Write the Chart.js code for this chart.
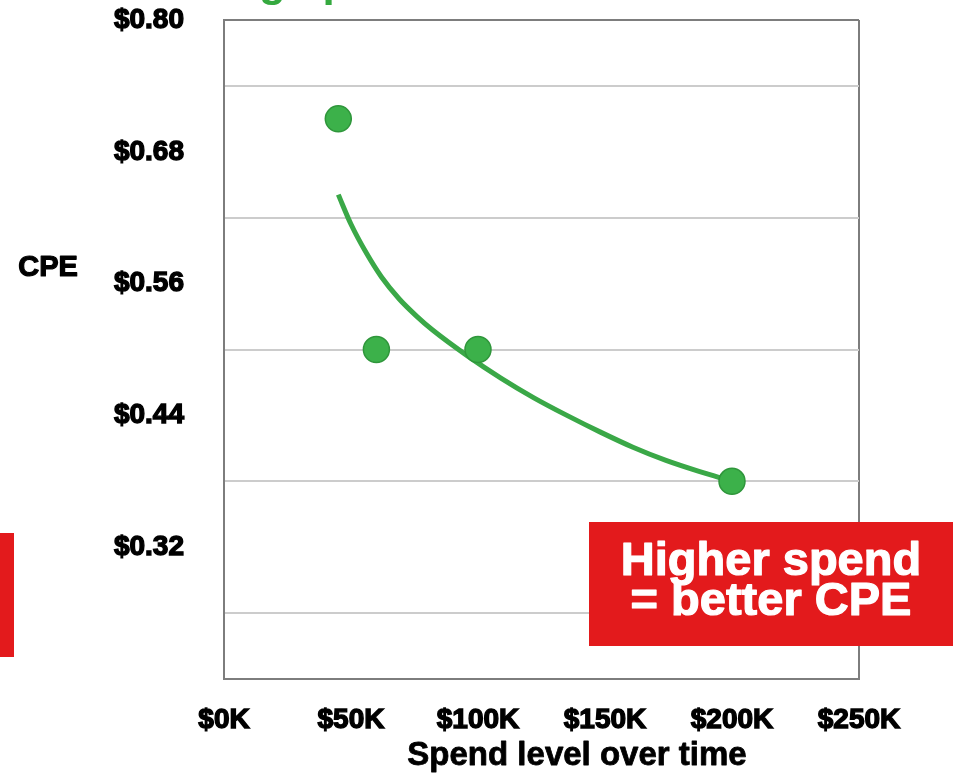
<!DOCTYPE html>
<html>
<head>
<meta charset="utf-8">
<title>CPE vs spend</title>
<script src="https://cdn.jsdelivr.net/npm/chart.js@4/dist/chart.umd.min.js"></script>
<style>
  html, body { margin: 0; padding: 0; background: #ffffff; }
  #wrap { width: 958px; height: 782px; }
</style>
</head>
<body>
<div id="wrap"><canvas id="cpeChart" width="958" height="782"></canvas></div>
<script>
// spend in $K, cost per engagement in $
const spendK = [45, 60, 100, 200];
const cpe = [0.71, 0.50, 0.50, 0.38];

// trend curve
const trendSpendK = [45, 50, 56, 62, 69, 76, 82, 96, 109, 122, 135, 148, 161, 174, 187, 200];
const trendCpe = [0.641, 0.614, 0.588, 0.566, 0.546, 0.530, 0.518, 0.494, 0.474, 0.456, 0.440, 0.425, 0.411, 0.399, 0.389, 0.380];

const xTickValues = [0, 50, 100, 150, 200, 250];
const xTickLabels = ["$0K", "$50K", "$100K", "$150K", "$200K", "$250K"];

const yLabelValues = [0.32, 0.44, 0.56, 0.68, 0.80];
const yLabelText = ["$0.32", "$0.44", "$0.56", "$0.68", "$0.80"];
const yGridValues = [0.26, 0.38, 0.50, 0.62, 0.74];

const GREEN = "#3cb14a";
const GREEN_DARK = "#2f963b";
const RED = "#e31a1c";
const BORDER = "#7d7d7d";
const GRID = "#cccccc";
const FONT = "'Liberation Sans', Arial, sans-serif";

function near(a, b) {
  return Math.abs(a - b) < 1e-6;
}

function inList(list, v) {
  return list.some((x) => near(x, v));
}

function heavyText(ctx, text, x, y, color, stroke) {
  ctx.fillStyle = color;
  ctx.strokeStyle = color;
  ctx.lineWidth = stroke;
  ctx.lineJoin = "round";
  ctx.strokeText(text, x, y);
  ctx.fillText(text, x, y);
}

const overlay = {
  id: "overlay",
  afterDraw(chart) {
    const ctx = chart.ctx;
    ctx.save();

    // title cut off by the top edge, only descenders show
    ctx.fillStyle = "#35a93f";
    ctx.font = "bold 44px " + FONT;
    ctx.textBaseline = "alphabetic";
    ctx.textAlign = "left";
    const before = "Increasin";
    const title = "Increasing spend lowers CPE";
    ctx.fillText(title, 259 - ctx.measureText(before).width, -4);

    // y axis title
    ctx.font = "bold 29px " + FONT;
    ctx.textAlign = "center";
    ctx.textBaseline = "middle";
    heavyText(ctx, "CPE", 48, 268, "#000", 1.2);

    // x axis title
    ctx.font = "bold 33px " + FONT;
    ctx.textBaseline = "alphabetic";
    heavyText(ctx, "Spend level over time", 577, 765, "#000", 0.8);

    // red strip on the left edge
    ctx.fillStyle = RED;
    ctx.fillRect(0, 533, 14, 124);

    // callout
    ctx.fillRect(589, 522, 364, 124);
    ctx.font = "bold 47px " + FONT;
    ctx.textAlign = "center";
    heavyText(ctx, "Higher spend", 771, 575, "#fff", 1.2);
    heavyText(ctx, "= better CPE", 771, 615, "#fff", 1.2);

    ctx.restore();
  }
};

new Chart(document.getElementById("cpeChart"), {
  type: "scatter",
  data: {
    datasets: [
      {
        label: "CPE",
        data: spendK.map((x, i) => ({ x: x, y: cpe[i] })),
        pointRadius: 13,
        pointBackgroundColor: GREEN,
        pointBorderColor: GREEN_DARK,
        pointBorderWidth: 1.5,
        order: 1
      },
      {
        type: "line",
        label: "Trend",
        data: trendSpendK.map((x, i) => ({ x: x, y: trendCpe[i] })),
        borderColor: "#3aa847",
        borderWidth: 5,
        pointRadius: 0,
        cubicInterpolationMode: "monotone",
        fill: false,
        order: 2
      }
    ]
  },
  options: {
    responsive: false,
    animation: false,
    layout: {
      padding: { top: 20, right: 99, bottom: 0, left: 0 }
    },
    plugins: {
      legend: { display: false },
      tooltip: { enabled: false }
    },
    scales: {
      x: {
        type: "linear",
        min: 0,
        max: 250,
        afterBuildTicks: (scale) => {
          scale.ticks = xTickValues.map((v) => ({ value: v }));
        },
        afterFit: (scale) => {
          scale.height = 103;
          scale.paddingLeft = 0;
          scale.paddingRight = 0;
        },
        ticks: {
          autoSkip: false,
          maxRotation: 0,
          padding: 24,
          color: "#000",
          textStrokeColor: "#000",
          textStrokeWidth: 1.4,
          font: { family: FONT, size: 28, weight: "bold" },
          callback: (v) => xTickLabels[xTickValues.indexOf(v)]
        },
        grid: {
          drawTicks: false,
          lineWidth: 2,
          color: (c) => (c.tick && c.tick.value === 250 ? BORDER : "rgba(0,0,0,0)")
        },
        border: { color: BORDER, width: 2 }
      },
      y: {
        type: "linear",
        min: 0.2,
        max: 0.8,
        afterBuildTicks: (scale) => {
          const all = yGridValues.concat(yLabelValues, [0.2]).sort((a, b) => a - b);
          scale.ticks = all.map((v) => ({ value: v }));
        },
        afterFit: (scale) => {
          scale.width = 224;
          scale.paddingTop = 0;
          scale.paddingBottom = 0;
        },
        ticks: {
          autoSkip: false,
          padding: 40,
          color: "#000",
          textStrokeColor: "#000",
          textStrokeWidth: 1.4,
          font: { family: FONT, size: 28, weight: "bold" },
          callback: (v) => {
            const i = yLabelValues.findIndex((x) => near(x, v));
            return i >= 0 ? yLabelText[i] : "";
          }
        },
        grid: {
          drawTicks: false,
          lineWidth: 2,
          color: (c) => {
            if (!c.tick) return "rgba(0,0,0,0)";
            if (near(c.tick.value, 0.8)) return BORDER;
            if (inList(yGridValues, c.tick.value)) return GRID;
            return "rgba(0,0,0,0)";
          }
        },
        border: { color: BORDER, width: 2 }
      }
    }
  },
  plugins: [overlay]
});
</script>
</body>
</html>
